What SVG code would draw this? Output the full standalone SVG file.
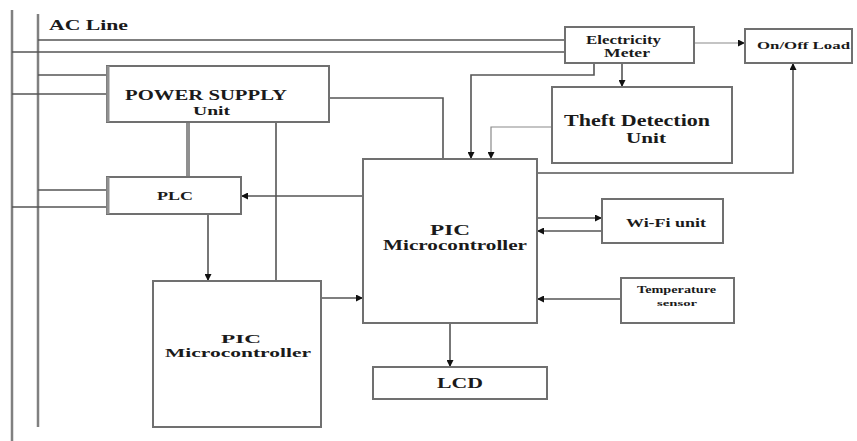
<svg xmlns="http://www.w3.org/2000/svg" width="857" height="441" viewBox="0 0 857 441" font-family="'Liberation Serif', 'DejaVu Serif', serif">
<style>
.box{fill:#fff;stroke:#707070;stroke-width:2}
.ln{fill:none;stroke:#555;stroke-width:1.6}
.bus{fill:none;stroke:#808080;stroke-width:2.5}
.thin{fill:none;stroke:#8a8a8a;stroke-width:1.2}
text{font-family:'Liberation Serif','DejaVu Serif',serif;font-weight:bold;fill:#1a1a1a}
</style>
<defs>
<marker id="ah" viewBox="0 0 10 10" refX="10" refY="5" markerWidth="7" markerHeight="7" markerUnits="userSpaceOnUse" orient="auto">
<path d="M0,0 L10,5 L0,10 z" fill="#111"/>
</marker>
</defs>
<rect width="857" height="441" fill="#fff"/>
<g id="connectors">
<path class="bus" d="M12,10 V441"/>
<path class="bus" d="M38,14 V427"/>
<path class="ln" d="M38,40 H565"/>
<path class="ln" d="M12,52 H565"/>
<path class="ln" d="M38,75 H107"/>
<path class="ln" d="M12,94 H107"/>
<path class="ln" d="M38,190 H107"/>
<path class="ln" d="M12,207 H107"/>
<path class="ln" d="M329,98 H443 V159"/>
<path fill="none" stroke="#909090" stroke-width="4" d="M188,122 V177"/>
<path class="ln" d="M276,122 V281"/>
<path class="thin" d="M694,43 H745" marker-end="url(#ah)"/>
<path class="ln" stroke-width="2.5" d="M622,63 V87" marker-end="url(#ah)"/>
<path class="ln" d="M594,63 V75 H471 V159" marker-end="url(#ah)"/>
<path class="thin" d="M552,127 H491 V159" marker-end="url(#ah)"/>
<path class="ln" d="M537,173 H793 V63" marker-end="url(#ah)"/>
<path class="ln" d="M363,196 H241" marker-end="url(#ah)"/>
<path class="ln" d="M208,214 V281" marker-end="url(#ah)"/>
<path class="ln" d="M321,298 H363" marker-end="url(#ah)"/>
<path class="ln" d="M537,218 H602" marker-end="url(#ah)"/>
<path class="ln" d="M602,231 H537" marker-end="url(#ah)"/>
<path class="ln" d="M621,299 H537" marker-end="url(#ah)"/>
<path class="ln" stroke-width="2" d="M450,323 V367" marker-end="url(#ah)"/>
</g>
<text x="49" y="30" font-size="14" textLength="79" lengthAdjust="spacingAndGlyphs">AC Line</text>
<g id="power-supply">
<rect class="box" x="107" y="66" width="222" height="56"/>
<path d="M108,66 V122" stroke="#909090" stroke-width="3"/>
<text x="125" y="100" font-size="15" textLength="162" lengthAdjust="spacingAndGlyphs">POWER SUPPLY</text>
<text x="193" y="115" font-size="13" textLength="37" lengthAdjust="spacingAndGlyphs">Unit</text>
</g>
<g id="electricity-meter">
<rect class="box" x="565" y="27" width="129" height="36"/>
<text x="586" y="44" font-size="12" textLength="75" lengthAdjust="spacingAndGlyphs">Electricity</text>
<text x="604" y="57" font-size="12" textLength="46" lengthAdjust="spacingAndGlyphs">Meter</text>
</g>
<g id="on-off-load">
<rect class="box" x="745" y="29" width="107" height="34"/>
<text x="757" y="49" font-size="11" textLength="93" lengthAdjust="spacingAndGlyphs">On/Off Load</text>
</g>
<g id="theft-detection">
<rect class="box" x="552" y="87" width="180" height="76"/>
<text x="564" y="126" font-size="16" textLength="146" lengthAdjust="spacingAndGlyphs">Theft Detection</text>
<text x="626" y="143" font-size="14" textLength="40" lengthAdjust="spacingAndGlyphs">Unit</text>
</g>
<g id="plc">
<rect class="box" x="107" y="177" width="134" height="37"/>
<path d="M108,177 V214" stroke="#909090" stroke-width="3"/>
<text x="157" y="200" font-size="13" textLength="36" lengthAdjust="spacingAndGlyphs">PLC</text>
</g>
<g id="pic-main">
<rect class="box" x="363" y="159" width="174" height="164"/>
<text x="430" y="235" font-size="15" textLength="40" lengthAdjust="spacingAndGlyphs">PIC</text>
<text x="383" y="250" font-size="14" textLength="144" lengthAdjust="spacingAndGlyphs">Microcontroller</text>
</g>
<g id="wifi">
<rect class="box" x="602" y="199" width="121" height="44"/>
<text x="626" y="227" font-size="12" textLength="80" lengthAdjust="spacingAndGlyphs">Wi-Fi unit</text>
</g>
<g id="temperature-sensor">
<rect class="box" x="621" y="278" width="113" height="45"/>
<text x="637" y="293" font-size="10" textLength="79" lengthAdjust="spacingAndGlyphs">Temperature</text>
<text x="657" y="306" font-size="9" textLength="40" lengthAdjust="spacingAndGlyphs">sensor</text>
</g>
<g id="pic-second">
<rect class="box" x="153" y="281" width="168" height="146"/>
<text x="221" y="343" font-size="13" textLength="40" lengthAdjust="spacingAndGlyphs">PIC</text>
<text x="165" y="357" font-size="13" textLength="146" lengthAdjust="spacingAndGlyphs">Microcontroller</text>
</g>
<g id="lcd">
<rect class="box" x="373" y="367" width="174" height="32"/>
<text x="437" y="388" font-size="15" textLength="46" lengthAdjust="spacingAndGlyphs">LCD</text>
</g>
</svg>
